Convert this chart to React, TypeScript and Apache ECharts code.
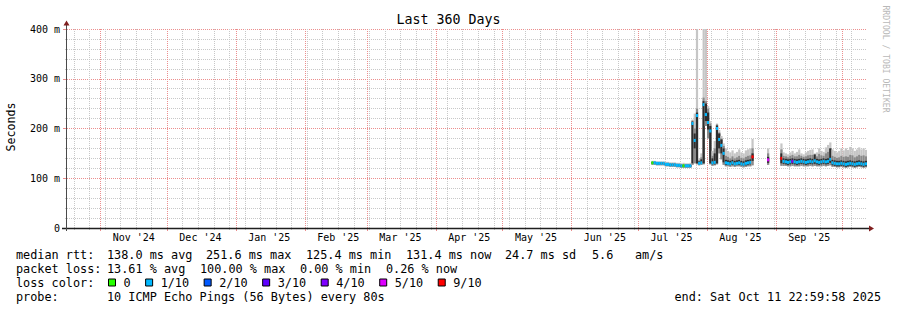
import React, { useEffect, useRef } from 'react';
import * as echarts from 'echarts';

// ---------- time frame ----------
const END_TIME = Date.UTC(2025, 9, 11, 22, 59, 58);
const SPAN_DAYS = 360;
const DAY = 86400000;
const START_TIME = END_TIME - SPAN_DAYS * DAY;
const FIRST_SAMPLE_DAY = 263; // day index (from start) of first sample

// ---------- tick labels ----------
const MONTH_LABELS = ["Nov '24", "Dec '24", "Jan '25", "Feb '25", "Mar '25", "Apr '25", "May '25", "Jun '25", "Jul '25", "Aug '25", "Sep '25"];
const MONTH_STARTS: [number, number][] = [[2024, 10], [2024, 11], [2025, 0], [2025, 1], [2025, 2], [2025, 3], [2025, 4], [2025, 5], [2025, 6], [2025, 7], [2025, 8], [2025, 9]];
const Y_TICKS = [0, 100, 200, 300, 400];

// ---------- data (ms), one sample per day, null = no data ----------
const MEDIAN = [
  131, 131, 130, 130, 130, 130, 128, 128, 127, 127, 127, 126, 126, 125, 125, 125, 125, 125,
  210, 176, 226, 130, 131, 248, 228, 212, 195, 131, 132, 200, 178, 166, 150, 131,
  130, 129, 131, 129, 130, 131, 129, 128, 130, 131, 132, 143,
  null, null, null, null, null, null,
  137,
  null, null, null, null, null,
  140,
  134, 133, 132, 133, 134, 133, 132, 133, 134, 133, 132, 133, 134, 133, 135, 133, 132, 133, 134, 133, 134, 138, 131, 130, 129, 129, 130, 129, 128, 129, 130, 129, 128, 129, 130, 129, 128, 129,
];
const LOSS = [
  0, 1, 1, 1, 1, 1, 1, 1, 1, 1, 1, 1, 1, 1, 0, 1, 1, 1,
  1, 1, 1, 1, 1, 1, 1, 1, 1, 1, 1, 1, 1, 1, 1, 1,
  1, 1, 1, 1, 1, 1, 1, 1, 1, 1, 1, 9,
  null, null, null, null, null, null,
  5,
  null, null, null, null, null,
  9,
  1, 1, 1, 1, 4, 1, 1, 1, 1, 1, 1, 1, 1, 1, 1, 1, 1, 1, 1, 1, 1, 1, 1, 1, 1, 1, 1, 1, 1, 1, 1, 1, 1, 1, 1, 1, 1, 1,
];
const SMOKE_LO = [
  127, 127, 126, 126, 126, 126, 124, 124, 123, 123, 123, 122, 122, 121, 121, 121, 121, 121,
  127, 130, 128, 126, 127, 128, 205, 180, 128, 125, 126, 128, 150, 138, 127, 124,
  124, 123, 124, 123, 124, 124, 123, 122, 123, 124, 124, 126,
  null, null, null, null, null, null,
  127,
  null, null, null, null, null,
  125,
  125, 125, 124, 124, 125, 124, 124, 124, 125, 124, 124, 124, 125, 124, 125, 124, 124, 124, 125, 124, 125, 126, 123, 123, 122, 122, 123, 122, 121, 122, 123, 122, 121, 122, 123, 122, 121, 122,
];
const SMOKE_HI = [
  135, 135, 134, 134, 134, 134, 133, 133, 132, 132, 132, 131, 131, 130, 131, 130, 130, 131,
  218, 230, 400, 140, 150, 400, 400, 245, 215, 155, 175, 210, 197, 185, 170, 160,
  155, 152, 156, 150, 153, 158, 152, 150, 156, 158, 160, 179,
  null, null, null, null, null, null,
  160,
  null, null, null, null, null,
  170,
  152, 150, 148, 152, 155, 150, 153, 158, 150, 148, 152, 155, 157, 158, 150, 152, 160, 155, 153, 162, 167, 172, 158, 155, 152, 155, 160, 156, 160, 157, 163, 160, 155, 158, 162, 158, 160, 157,
];
const SMOKE_MID_HI = [
  133, 133, 132, 132, 132, 132, 131, 131, 130, 130, 130, 129, 129, 128, 128, 128, 128, 128,
  216, 200, 240, 136, 142, 262, 255, 240, 210, 145, 160, 208, 192, 180, 165, 145,
  143, 140, 144, 140, 142, 145, 141, 140, 143, 145, 146, 160,
  null, null, null, null, null, null,
  150,
  null, null, null, null, null,
  158,
  145, 144, 142, 145, 147, 144, 144, 147, 145, 143, 144, 146, 147, 147, 143, 144, 149, 146, 145, 150, 153, 160, 145, 143, 141, 142, 145, 143, 144, 143, 147, 146, 142, 144, 147, 145, 146, 144,
];
const SMOKE_DARK_LO = [
  129, 129, 128, 128, 128, 128, 126, 126, 125, 125, 125, 124, 124, 123, 123, 123, 123, 123,
  130, 160, 130, 128, 129, 130, 215, 198, 130, 128, 128, 130, 160, 150, 132, 127,
  127, 126, 127, 126, 127, 127, 126, 125, 126, 127, 128, 135,
  null, null, null, null, null, null,
  131,
  null, null, null, null, null,
  130,
  129, 128, 127, 128, 129, 128, 127, 128, 129, 128, 127, 128, 129, 128, 129, 128, 127, 128, 129, 128, 129, 131, 126, 125, 124, 124, 125, 124, 123, 124, 125, 124, 123, 124, 125, 124, 123, 124,
];
const SMOKE_DARK_HI = [
  133, 133, 132, 132, 132, 132, 130, 130, 129, 129, 129, 128, 128, 127, 127, 127, 127, 127,
  214, 190, 232, 134, 138, 255, 250, 232, 205, 140, 150, 206, 190, 178, 160, 137,
  136, 135, 137, 135, 136, 137, 135, 134, 136, 137, 138, 150,
  null, null, null, null, null, null,
  143,
  null, null, null, null, null,
  150,
  140, 139, 138, 139, 140, 139, 138, 139, 140, 139, 138, 139, 140, 139, 148, 139, 138, 139, 140, 139, 140, 160, 137, 136, 135, 135, 136, 135, 134, 135, 136, 135, 134, 135, 136, 135, 134, 135,
];

// ---------- legend texts ----------
const LOSS_COLORS: Record<number, string> = { 0: '#26ff00', 1: '#00b8ff', 2: '#0059ff', 3: '#5e00ff', 4: '#7e00ff', 5: '#dd00ff', 9: '#ff0000' };
const LOSS_LEGEND: [number, string][] = [[0, '0'], [1, '1/10'], [2, '2/10'], [3, '3/10'], [4, '4/10'], [5, '5/10'], [9, '9/10']];
const RTT_STATS: [string, number][] = [['138.0 ms avg', 107], ['251.6 ms max', 206], ['125.4 ms min', 306], ['131.4 ms now', 406], ['24.7 ms sd', 505], ['5.6', 592], ['am/s', 635]];
const LOSS_STATS: [string, number][] = [['13.61 % avg', 107], ['100.00 % max', 200], ['0.00 % min', 300], ['0.26 % now', 386]];
const PROBE_TEXT = '10 ICMP Echo Pings (56 Bytes) every 80s';
const END_TEXT = 'end: Sat Oct 11 22:59:58 2025';
const TITLE = 'Last 360 Days';
const Y_NAME = 'Seconds';
const WATERMARK = 'RRDTOOL / TOBI OETIKER';

const MONO = "'DejaVu Sans Mono', monospace";
const MAJOR = '#ec8e8e';
const MINOR = '#c8c8c8';

export default function App() {
  const ref = useRef<HTMLDivElement>(null);
  useEffect(() => {
    if (!ref.current) return;
    const chart = echarts.init(ref.current, null, { renderer: 'svg' });

    const monthLines = MONTH_STARTS.map(([y, m]) => Date.UTC(y, m, 1));
    const labelPos = MONTH_STARTS.slice(0, MONTH_LABELS.length).map(([y, m]) => Date.UTC(y, m, 16));
    const weekLines: number[] = [];
    for (let t = Date.UTC(2024, 9, 20); t < END_TIME; t += 7 * DAY) {
      if (!monthLines.includes(t)) weekLines.push(t);
    }

    const data: number[][] = [];
    MEDIAN.forEach((m, k) => {
      if (m == null) return;
      data.push([
        START_TIME + (FIRST_SAMPLE_DAY + k) * DAY,
        SMOKE_LO[k] as number, SMOKE_HI[k] as number, SMOKE_MID_HI[k] as number,
        SMOKE_DARK_LO[k] as number, SMOKE_DARK_HI[k] as number, m, LOSS[k] as number,
      ]);
    });

    const textStyle = (text: string, x: number, y: number, extra: any = {}) => ({
      type: 'text', x, y, z: 50,
      style: { text, fill: '#000', fontFamily: MONO, fontSize: 11.84, align: 'left', verticalAlign: 'middle', ...extra },
    });

    const legendEls: any[] = [];
    const rowY = [254.5, 268.5, 282.5, 296.5];
    legendEls.push(textStyle('median rtt:', 16, rowY[0]));
    RTT_STATS.forEach(([s, x]) => legendEls.push(textStyle(s, x, rowY[0])));
    legendEls.push(textStyle('packet loss:', 16, rowY[1]));
    LOSS_STATS.forEach(([s, x]) => legendEls.push(textStyle(s, x, rowY[1])));
    legendEls.push(textStyle('loss color:', 16, rowY[2]));
    let bx = 108.5;
    const charW = 7.13;
    LOSS_LEGEND.forEach(([lvl, label]) => {
      legendEls.push({
        type: 'rect', z: 50,
        shape: { x: bx, y: rowY[2] - 3.5, width: 7, height: 7 },
        style: { fill: LOSS_COLORS[lvl], stroke: '#000', lineWidth: 1 },
      });
      const lx = bx + 15;
      legendEls.push(textStyle(label, lx, rowY[2]));
      bx = lx + label.length * charW + 15;
    });
    legendEls.push(textStyle('probe:', 16, rowY[3]));
    legendEls.push(textStyle(PROBE_TEXT, 107, rowY[3]));
    legendEls.push(textStyle(END_TEXT, 881, rowY[3], { align: 'right' }));

    const option: any = {
      animation: false,
      backgroundColor: '#ffffff',
      textStyle: { fontFamily: MONO },
      grid: { left: 67, right: 30, top: 29, bottom: 82, containLabel: false, outerBoundsMode: 'none' },
      xAxis: [
        {
          type: 'value', position: 'bottom', min: START_TIME, max: END_TIME,
          axisLine: { show: false },
          axisTick: { show: true, customValues: weekLines, length: 2, lineStyle: { color: MINOR } },
          axisLabel: { show: false },
          splitLine: { show: true, lineStyle: { color: MINOR, type: [1, 1], width: 1 } },
        },
        {
          type: 'value', position: 'bottom', min: START_TIME, max: END_TIME,
          axisLine: { show: false },
          axisTick: { show: true, customValues: monthLines, length: 3, lineStyle: { color: MAJOR } },
          axisLabel: {
            show: true, customValues: labelPos, margin: 4, fontSize: 10, fontFamily: MONO, color: '#000',
            formatter: (v: number) => {
              let best = -1, bd = Infinity;
              labelPos.forEach((p, i) => { const d = Math.abs(p - v); if (d < bd) { bd = d; best = i; } });
              return best >= 0 ? MONTH_LABELS[best] : '';
            },
          },
          splitLine: { show: true, lineStyle: { color: MAJOR, type: [1, 1], width: 1 } },
        },
      ],
      yAxis: {
        type: 'value', min: Y_TICKS[0], max: Y_TICKS[Y_TICKS.length - 1], interval: 100,
        axisLine: { show: false },
        axisTick: { show: true, length: 4, lineStyle: { color: MAJOR } },
        minorTick: { show: true, splitNumber: 5, length: 2, lineStyle: { color: MINOR } },
        splitLine: { show: true, lineStyle: { color: MAJOR, type: [1, 1], width: 1 } },
        minorSplitLine: { show: true, lineStyle: { color: MINOR, type: [1, 1], width: 1 } },
        axisLabel: {
          margin: 7, fontSize: 10, fontFamily: MONO, color: '#000',
          formatter: (v: number) => (v === 0 ? '0' : `${v} m`),
        },
      },
      series: [
        {
          type: 'custom', xAxisIndex: 1, yAxisIndex: 0, clip: true,
          encode: { x: 0, y: [1, 2] },
          data,
          renderItem: (params: any, api: any) => {
            const t = api.value(0);
            const w = api.size([DAY, 0])[0];
            const pLo = api.coord([t, api.value(1)]);
            const pHi = api.coord([t, api.value(2)]);
            const pMid = api.coord([t, api.value(3)]);
            const pDlo = api.coord([t, api.value(4)]);
            const pDhi = api.coord([t, api.value(5)]);
            const pMed = api.coord([t, api.value(6)]);
            const color = LOSS_COLORS[api.value(7)] || '#00b8ff';
            const x = pLo[0];
            return {
              type: 'group',
              children: [
                { type: 'rect', shape: { x, y: pHi[1], width: w, height: pLo[1] - pHi[1] }, style: { fill: '#c6c6c6' } },
                { type: 'rect', shape: { x, y: pMid[1], width: w, height: pLo[1] - pMid[1] }, style: { fill: '#8a8a8a' } },
                { type: 'rect', shape: { x, y: pDhi[1], width: w, height: pDlo[1] - pDhi[1] }, style: { fill: '#2e2e2e' } },
                { type: 'rect', shape: { x, y: pMed[1] - 1.5, width: w, height: 3 }, style: { fill: color } },
              ],
            };
          },
        },
      ],
      graphic: [
        { type: 'text', x: 448.5, y: 19, z: 50, style: { text: TITLE, fill: '#000', fontFamily: MONO, fontSize: 13.3, align: 'center', verticalAlign: 'middle' } },
        { type: 'text', x: 11, y: 127, z: 50, rotation: Math.PI / 2, style: { text: Y_NAME, fill: '#000', fontFamily: MONO, fontSize: 11.6, align: 'center', verticalAlign: 'middle' } },
        { type: 'text', x: 886, y: 59, z: 50, rotation: -Math.PI / 2, style: { text: WATERMARK, fill: '#b8b8b8', fontFamily: MONO, fontSize: 8.1, align: 'center', verticalAlign: 'middle' } },
        { type: 'line', z: 60, shape: { x1: 62, y1: 228.5, x2: 869, y2: 228.5 }, style: { stroke: '#1f1f1f', lineWidth: 1.3 } },
        { type: 'line', z: 60, shape: { x1: 66.5, y1: 231, x2: 66.5, y2: 25 }, style: { stroke: '#4a4a4a', lineWidth: 1 } },
        { type: 'polygon', z: 61, shape: { points: [[869, 225.5], [869, 231.5], [874, 228.5]] }, style: { fill: '#801f1f' } },
        { type: 'polygon', z: 61, shape: { points: [[63.5, 25.5], [69.5, 25.5], [66.5, 20.5]] }, style: { fill: '#801f1f' } },
        ...legendEls,
      ],
    };
    chart.setOption(option);
    return () => chart.dispose();
  }, []);
  return <div ref={ref} style={{ position: 'absolute', left: 0, top: 0, width: 897, height: 310 }} />;
}
